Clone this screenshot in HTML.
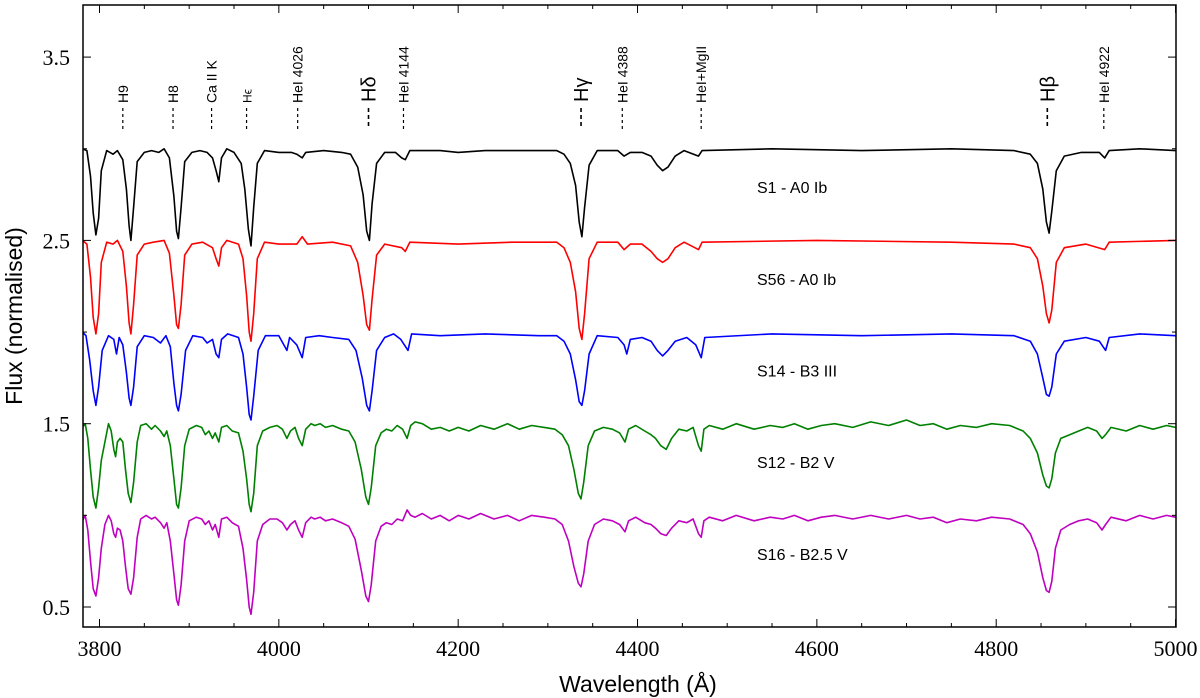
<!DOCTYPE html>
<html><head><meta charset="utf-8"><style>
body{margin:0;background:#fff;width:1200px;height:698px;overflow:hidden}
svg{display:block}
.tk{font-family:"Liberation Serif",serif;font-size:22px}
.lab{font-family:"Liberation Sans",sans-serif}
</style></head><body>
<svg id="chart" width="1200" height="698">
<defs><clipPath id="cp"><rect x="83" y="5" width="1093" height="622"/></clipPath></defs>
<g id="spectra" clip-path="url(#cp)"></g>
<g id="axes"></g>
<g id="ann"></g>
</svg>
<script>
const xTicks=[3800,4000,4200,4400,4600,4800,5000];
const yTicks=[0.5,1.5,2.5,3.5];
const seriesNames=["S1 - A0 Ib","S56 - A0 Ib","S14 - B3 III","S12 - B2 V","S16 - B2.5 V"];
const seriesColors=["#000000","#ff0000","#0000ff","#008000","#c000c0"];
const labelFlux=[2.79,2.29,1.79,1.29,0.79];
const s1=[[3781,3.00],[3786,2.99],[3790,2.85],[3793,2.65],[3796,2.53],[3799,2.62],[3802,2.88],[3808,2.99],[3815,2.97],[3820,2.99],[3826,2.94],[3830,2.78],[3833,2.58],[3835,2.50],[3838,2.68],[3842,2.93],[3850,2.98],[3858,2.99],[3866,2.98],[3872,3.00],[3878,2.95],[3883,2.74],[3886,2.55],[3888,2.51],[3891,2.68],[3895,2.93],[3903,2.98],[3912,2.99],[3920,2.98],[3926,2.95],[3930,2.88],[3933,2.82],[3936,2.95],[3942,3.00],[3950,2.98],[3958,2.92],[3962,2.78],[3966,2.56],[3969,2.47],[3972,2.68],[3976,2.92],[3984,2.99],[4000,2.98],[4014,2.98],[4020,2.97],[4026,2.95],[4030,2.98],[4050,2.99],[4070,2.98],[4080,2.97],[4088,2.90],[4094,2.75],[4098,2.55],[4101,2.50],[4104,2.70],[4109,2.92],[4118,2.98],[4130,2.98],[4137,2.95],[4141,2.94],[4146,2.99],[4180,2.99],[4200,2.98],[4230,2.99],[4280,2.99],[4310,2.99],[4318,2.97],[4325,2.92],[4331,2.80],[4335,2.60],[4338,2.52],[4341,2.68],[4346,2.91],[4355,2.99],[4378,2.99],[4385,2.96],[4392,2.98],[4405,2.98],[4415,2.96],[4422,2.91],[4428,2.88],[4434,2.90],[4442,2.96],[4452,2.99],[4468,2.96],[4472,2.99],[4550,3.00],[4650,2.99],[4750,3.00],[4820,2.99],[4838,2.97],[4846,2.92],[4852,2.78],[4856,2.60],[4859,2.54],[4862,2.66],[4867,2.88],[4876,2.96],[4895,2.98],[4915,2.98],[4921,2.95],[4926,2.99],[4960,3.00],[5000,2.99]];
const s56=[[3781,2.50],[3786,2.48],[3790,2.30],[3793,2.08],[3796,1.99],[3799,2.10],[3802,2.38],[3808,2.49],[3815,2.48],[3820,2.50],[3826,2.44],[3830,2.25],[3833,2.05],[3835,1.99],[3838,2.15],[3842,2.42],[3850,2.48],[3860,2.49],[3872,2.50],[3878,2.43],[3883,2.20],[3886,2.04],[3888,2.02],[3891,2.15],[3895,2.42],[3903,2.48],[3915,2.49],[3926,2.46],[3930,2.40],[3933,2.36],[3936,2.46],[3942,2.50],[3955,2.48],[3960,2.40],[3964,2.20],[3967,2.00],[3969,1.95],[3972,2.10],[3976,2.40],[3984,2.49],[4000,2.48],[4020,2.48],[4026,2.52],[4032,2.48],[4060,2.49],[4080,2.47],[4088,2.38],[4094,2.20],[4098,2.04],[4101,2.01],[4104,2.18],[4109,2.42],[4118,2.48],[4137,2.46],[4141,2.44],[4146,2.49],[4200,2.48],[4260,2.49],[4310,2.49],[4318,2.46],[4325,2.38],[4331,2.22],[4335,2.02],[4338,1.96],[4341,2.10],[4346,2.40],[4355,2.49],[4378,2.49],[4385,2.45],[4392,2.48],[4405,2.48],[4415,2.44],[4422,2.40],[4428,2.38],[4434,2.40],[4442,2.46],[4452,2.49],[4468,2.45],[4472,2.49],[4600,2.50],[4750,2.49],[4820,2.48],[4838,2.46],[4846,2.40],[4852,2.25],[4856,2.10],[4859,2.05],[4862,2.12],[4867,2.38],[4876,2.46],[4900,2.48],[4921,2.45],[4926,2.49],[5000,2.50]];
const s14=[[3781,2.00],[3785,1.98],[3789,1.85],[3793,1.68],[3796,1.60],[3799,1.70],[3803,1.90],[3810,1.98],[3816,1.96],[3819,1.88],[3822,1.97],[3826,1.93],[3830,1.78],[3833,1.64],[3835,1.60],[3838,1.70],[3842,1.92],[3850,1.98],[3860,1.97],[3868,1.94],[3874,1.98],[3879,1.92],[3883,1.72],[3886,1.60],[3888,1.57],[3891,1.66],[3896,1.90],[3904,1.98],[3915,1.97],[3920,1.94],[3926,1.96],[3930,1.88],[3933,1.86],[3936,1.96],[3943,1.99],[3955,1.97],[3960,1.88],[3964,1.70],[3967,1.55],[3969,1.52],[3972,1.65],[3977,1.90],[3985,1.98],[4000,1.98],[4009,1.90],[4012,1.97],[4020,1.93],[4026,1.86],[4030,1.97],[4045,1.98],[4060,1.97],[4078,1.96],[4086,1.90],[4093,1.75],[4098,1.60],[4101,1.57],[4104,1.68],[4109,1.90],[4118,1.97],[4128,1.99],[4136,1.96],[4144,1.90],[4148,1.99],[4180,1.98],[4230,1.99],[4290,1.98],[4310,1.98],[4318,1.95],[4325,1.88],[4331,1.74],[4335,1.62],[4338,1.60],[4341,1.68],[4346,1.88],[4355,1.98],[4378,1.97],[4385,1.93],[4388,1.88],[4392,1.96],[4405,1.97],[4415,1.95],[4422,1.90],[4428,1.87],[4434,1.90],[4442,1.95],[4455,1.97],[4465,1.93],[4471,1.86],[4475,1.97],[4550,1.99],[4650,1.98],[4750,1.99],[4820,1.98],[4838,1.95],[4846,1.88],[4852,1.75],[4856,1.66],[4859,1.65],[4862,1.70],[4867,1.88],[4876,1.95],[4900,1.97],[4915,1.95],[4922,1.90],[4926,1.97],[4960,1.99],[5000,1.98]];
const s12=[[3781,1.48],[3784,1.50],[3787,1.42],[3790,1.25],[3793,1.10],[3796,1.04],[3799,1.15],[3802,1.30],[3806,1.40],[3810,1.50],[3813,1.46],[3816,1.36],[3818,1.32],[3820,1.40],[3823,1.42],[3826,1.40],[3829,1.25],[3832,1.12],[3835,1.07],[3838,1.18],[3842,1.40],[3846,1.49],[3852,1.50],[3858,1.47],[3862,1.49],[3868,1.46],[3872,1.43],[3875,1.46],[3879,1.38],[3883,1.20],[3886,1.06],[3888,1.04],[3891,1.15],[3895,1.38],[3900,1.47],[3908,1.49],[3914,1.48],[3918,1.44],[3922,1.46],[3926,1.42],[3929,1.45],[3933,1.40],[3936,1.48],[3942,1.49],[3948,1.46],[3955,1.45],[3960,1.35],[3964,1.20],[3967,1.06],[3969,1.02],[3972,1.12],[3976,1.38],[3982,1.46],[3990,1.48],[3998,1.49],[4004,1.47],[4009,1.42],[4013,1.46],[4018,1.48],[4022,1.42],[4026,1.38],[4030,1.47],[4036,1.50],[4040,1.49],[4046,1.50],[4052,1.48],[4060,1.49],[4070,1.47],[4078,1.46],[4085,1.40],[4092,1.25],[4097,1.10],[4100,1.06],[4103,1.15],[4108,1.38],[4114,1.45],[4120,1.47],[4126,1.46],[4132,1.49],[4138,1.47],[4143,1.42],[4147,1.49],[4152,1.51],[4160,1.50],[4170,1.47],[4180,1.48],[4190,1.46],[4200,1.48],[4212,1.46],[4225,1.49],[4240,1.47],[4255,1.50],[4268,1.47],[4282,1.49],[4296,1.48],[4308,1.47],[4316,1.44],[4323,1.38],[4329,1.25],[4334,1.12],[4337,1.09],[4340,1.18],[4345,1.38],[4352,1.46],[4362,1.48],[4372,1.47],[4380,1.45],[4386,1.40],[4390,1.47],[4398,1.49],[4408,1.46],[4415,1.44],[4420,1.42],[4426,1.38],[4432,1.36],[4438,1.42],[4446,1.47],[4455,1.46],[4462,1.48],[4468,1.38],[4471,1.35],[4474,1.47],[4480,1.49],[4495,1.47],[4510,1.50],[4530,1.47],[4548,1.49],[4562,1.48],[4575,1.50],[4590,1.47],[4605,1.49],[4620,1.50],[4640,1.48],[4660,1.51],[4680,1.49],[4700,1.52],[4715,1.49],[4730,1.50],[4745,1.47],[4760,1.49],[4778,1.48],[4795,1.50],[4815,1.49],[4830,1.46],[4838,1.42],[4846,1.34],[4852,1.22],[4856,1.16],[4859,1.15],[4862,1.20],[4866,1.34],[4872,1.42],[4882,1.44],[4892,1.46],[4902,1.48],[4912,1.46],[4918,1.42],[4922,1.44],[4928,1.48],[4945,1.46],[4960,1.49],[4975,1.47],[4990,1.49],[5000,1.48]];
const s16=[[3781,0.97],[3784,1.00],[3787,0.92],[3790,0.75],[3793,0.60],[3796,0.56],[3799,0.66],[3802,0.82],[3806,0.95],[3810,1.00],[3813,0.97],[3816,0.90],[3818,0.88],[3820,0.93],[3823,0.92],[3826,0.86],[3829,0.72],[3832,0.60],[3835,0.57],[3838,0.66],[3842,0.88],[3846,0.98],[3852,1.00],[3858,0.98],[3862,0.99],[3868,0.96],[3872,0.93],[3875,0.96],[3879,0.86],[3883,0.68],[3886,0.54],[3888,0.51],[3891,0.62],[3895,0.86],[3900,0.97],[3908,0.99],[3914,0.98],[3918,0.95],[3922,0.97],[3926,0.92],[3929,0.95],[3933,0.88],[3936,0.98],[3942,0.99],[3948,0.96],[3955,0.94],[3960,0.82],[3964,0.65],[3967,0.50],[3969,0.46],[3972,0.58],[3976,0.86],[3982,0.95],[3990,0.98],[3998,0.98],[4004,0.96],[4009,0.92],[4013,0.95],[4018,0.97],[4022,0.92],[4026,0.88],[4030,0.96],[4036,0.99],[4040,0.98],[4046,0.99],[4052,0.97],[4060,0.98],[4070,0.96],[4078,0.94],[4085,0.87],[4092,0.70],[4097,0.56],[4100,0.53],[4103,0.62],[4108,0.86],[4114,0.94],[4120,0.96],[4126,0.95],[4132,0.98],[4138,0.97],[4143,1.03],[4147,1.00],[4152,0.99],[4160,1.01],[4170,0.98],[4180,1.00],[4190,0.97],[4200,1.00],[4212,0.98],[4225,1.01],[4240,0.98],[4255,1.00],[4268,0.97],[4282,1.00],[4296,0.99],[4308,0.98],[4316,0.95],[4323,0.86],[4329,0.72],[4334,0.63],[4337,0.61],[4340,0.68],[4345,0.86],[4352,0.95],[4362,0.98],[4372,0.97],[4380,0.95],[4386,0.91],[4390,0.97],[4398,0.99],[4408,0.96],[4415,0.95],[4420,0.93],[4426,0.90],[4432,0.89],[4438,0.93],[4446,0.97],[4455,0.96],[4462,0.98],[4468,0.90],[4471,0.88],[4474,0.97],[4480,0.99],[4495,0.97],[4510,1.00],[4530,0.97],[4548,0.99],[4562,0.98],[4575,1.00],[4590,0.97],[4605,0.99],[4620,1.00],[4640,0.98],[4660,1.00],[4680,0.98],[4700,1.00],[4715,0.98],[4730,0.99],[4745,0.96],[4760,0.98],[4778,0.97],[4795,0.99],[4815,0.98],[4830,0.95],[4838,0.90],[4846,0.80],[4852,0.66],[4856,0.59],[4859,0.58],[4862,0.64],[4866,0.82],[4872,0.92],[4882,0.95],[4892,0.97],[4902,0.98],[4912,0.96],[4918,0.92],[4922,0.95],[4928,0.99],[4945,0.97],[4960,1.00],[4975,0.98],[4990,1.00],[5000,0.99]];
const allSeries=[s1,s56,s14,s12,s16];
const annLabels=["H9","H8","Ca II K","H\u03F5","HeI 4026","H\u03B4","HeI 4144","H\u03B3","HeI 4388","HeI+MgII","H\u03B2","HeI 4922"];
const annWaves=[3826,3882,3925,3964,4021,4100,4139,4337,4383,4471,4857,4920];
const annBig=[0,0,0,0,0,1,0,1,0,0,1,0];

const NS="http://www.w3.org/2000/svg";
const X0=83,X1=1176,Y0=5,Y1=627;
function xs(w){return 99.5+(w-3800)*0.8967;}
function ys(f){return 607-(f-0.5)*183.3;}
function mk(tag,attrs,parent){const e=document.createElementNS(NS,tag);for(const k in attrs)e.setAttribute(k,attrs[k]);parent.appendChild(e);return e;}
const sp=document.getElementById('spectra'),ax=document.getElementById('axes'),an=document.getElementById('ann');
allSeries.forEach((s,i)=>{
  const p=mk('path',{d:s.map((q,j)=>(j?'L':'M')+xs(q[0]).toFixed(1)+','+ys(q[1]).toFixed(1)).join(''),fill:'none',stroke:seriesColors[i],'stroke-width':1.6,'stroke-linejoin':'round'},sp);
  
  
  const t=mk('text',{x:757,y:ys(labelFlux[i])+6,'font-size':16,class:'lab'},an);
  t.textContent=seriesNames[i];
  
  
});
const box=mk('rect',{x:X0,y:Y0,width:X1-X0,height:Y1-Y0,fill:'none',stroke:'#000','stroke-width':1.5},ax);


for(let w=3800;w<=5000;w+=50){const big=w%200===0;const x=xs(w);
  mk('line',{x1:x,x2:x,y1:Y1,y2:Y1-(big?8:4),stroke:'#000'},ax);
  mk('line',{x1:x,x2:x,y1:Y0,y2:Y0+(big?8:4),stroke:'#000'},ax);}
xTicks.forEach(w=>{const t=mk('text',{x:xs(w),y:656,'text-anchor':'middle',class:'tk'},ax);t.textContent=w;
  
  });
for(let f=0.5;f<=3.5;f+=0.5){const big=(f*2)%2===1;const y=ys(f);
  mk('line',{x1:X0,x2:X0+(big?8:4),y1:y,y2:y,stroke:'#000'},ax);
  mk('line',{x1:X1,x2:X1-(big?8:4),y1:y,y2:y,stroke:'#000'},ax);}
yTicks.forEach(f=>{const t=mk('text',{x:70,y:ys(f)+8,'text-anchor':'end',class:'tk'},ax);t.textContent=f.toFixed(1);
  
  });
const xt=mk('text',{x:638,y:692,'text-anchor':'middle','font-size':23,class:'lab'},ax);xt.textContent='Wavelength (\u00C5)';


const yt=mk('text',{x:0,y:0,'text-anchor':'middle','font-size':23,class:'lab',transform:'translate(22,316) rotate(-90)'},ax);yt.textContent='Flux (normalised)';


annLabels.forEach((l,i)=>{const x=xs(annWaves[i]);const big=annBig[i];
  mk('line',{x1:x,x2:x,y1:108,y2:129,stroke:'#000','stroke-width':big?1.6:1.2,'stroke-dasharray':big?'4,3':'3,3'},an);
  const t=mk('text',{x:0,y:0,'font-size':big?20:(l==='H\u03F5'?12:14),class:'lab',transform:`translate(${x+(big?7:5)},${big?102:103}) rotate(-90)`},an);
  t.textContent=l;
  
  });
</script>
</body></html>
